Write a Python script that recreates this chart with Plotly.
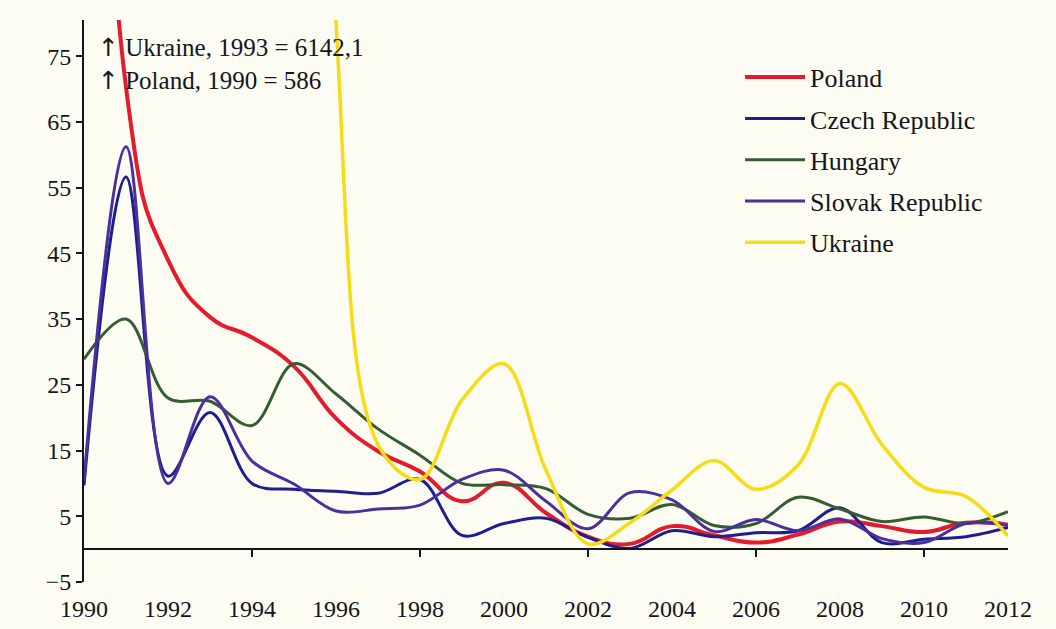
import plotly.graph_objects as go

years = list(range(1990, 2013))
poland = [586.0, 70.3, 44.0, 35.3, 32.2, 27.8, 19.9, 14.9, 11.8, 7.3, 10.1, 5.5,
          1.9, 0.8, 3.5, 2.1, 1.0, 2.2, 4.2, 3.5, 2.6, 4.0, 3.7]
czech = [9.7, 56.6, 11.1, 20.8, 10.0, 9.1, 8.8, 8.5, 10.6, 2.1, 3.9, 4.7,
         1.8, 0.1, 2.8, 1.9, 2.5, 2.8, 6.3, 1.0, 1.5, 1.9, 3.3]
hungary = [28.9, 35.0, 23.0, 22.5, 18.8, 28.2, 23.6, 18.3, 14.3, 10.0, 9.8, 9.2,
           5.3, 4.7, 6.8, 3.6, 3.9, 7.9, 6.1, 4.2, 4.9, 3.9, 5.7]
slovak = [10.4, 61.2, 10.0, 23.2, 13.4, 9.9, 5.8, 6.1, 6.7, 10.6, 12.0, 7.3,
          3.1, 8.6, 7.5, 2.7, 4.5, 2.8, 4.6, 1.6, 1.0, 3.9, 3.6]
ukraine_years = list(range(1993, 2013))
ukraine = [6142.1, 891.2, 376.7, 80.2, 15.9, 10.6, 22.7, 28.2, 12.0, 0.8,
           4.0, 9.0, 13.5, 9.1, 12.8, 25.2, 15.9, 9.4, 8.0, 2.0]

x_label_vals = list(range(1990, 2013, 2))
x_tick_marks = [1994, 1998, 2002, 2006, 2010]
y_tick_vals = [-5, 5, 15, 25, 35, 45, 55, 65, 75]

# name, x, y, colour, width, smoothing, x-axis
series = [
    ("Poland", years, poland, "#e31b2c", 4, 1.3, "x"),
    ("Czech Republic", years, czech, "#1e1e8e", 3, 1.0, "x"),
    ("Hungary", years, hungary, "#365c34", 3, 1.0, "x"),
    ("Slovak Republic", years, slovak, "#4a309c", 3, 1.0, "x"),
    ("Ukraine", ukraine_years, ukraine, "#f5dc16", 3.5, 1.0, "x2"),
]

FONT = "Liberation Serif"
INK = "#151520"
BG = "#fdfcf2"

fig = go.Figure()
for i, (name, xs, ys, color, w, sm, xa) in enumerate(series):
    fig.add_trace(go.Scatter(
        x=xs, y=ys, name=name, mode="lines", xaxis=xa, yaxis="y",
        line=dict(color=color, width=w, shape="spline", smoothing=sm),
        legendgroup=f"g{i}", hoverinfo="skip",
    ))

fig.update_layout(
    width=1056, height=629,
    margin=dict(l=84, r=48, t=20, b=47, autoexpand=False),
    paper_bgcolor=BG, plot_bgcolor=BG,
    font=dict(family=FONT, size=24, color=INK),
    showlegend=True,
    legend=dict(
        x=0.71, y=0.94, xanchor="left", yanchor="top",
        bgcolor="rgba(0,0,0,0)", font=dict(family=FONT, size=26, color=INK),
        itemwidth=60, traceorder="grouped", tracegroupgap=4.5,
    ),
    xaxis=dict(
        range=[1990, 2012], tickvals=x_label_vals,
        ticktext=[str(v) for v in x_label_vals],
        showline=False, showgrid=False, zeroline=False, automargin=False,
        ticks="outside", ticklen=5, tickcolor="rgba(0,0,0,0)",
        tickfont=dict(family=FONT, size=24, color=INK),
    ),
    xaxis2=dict(
        range=[1990, 2012], overlaying="x", anchor="free",
        position=5 / 85.5, side="bottom", automargin=False,
        showline=True, linecolor=INK, linewidth=2,
        tickvals=x_tick_marks, ticks="outside", ticklen=7, tickwidth=2,
        tickcolor=INK, showticklabels=False, showgrid=False, zeroline=False,
    ),
    yaxis=dict(
        range=[-5, 80.5], tickvals=y_tick_vals, automargin=False,
        showline=True, linecolor=INK, linewidth=2,
        ticks="outside", ticklen=6, tickwidth=2, tickcolor=INK,
        showgrid=False, zeroline=False,
        tickfont=dict(family=FONT, size=24, color=INK),
    ),
    annotations=[dict(
        xref="paper", yref="paper", x=0.013, y=0.98,
        xanchor="left", yanchor="top", align="left", showarrow=False,
        text=('<span style="font-family:DejaVu Sans">↑</span> Ukraine, 1993 = 6142,1<br>'
              '<span style="font-family:DejaVu Sans">↑</span> Poland, 1990 = 586'),
        font=dict(family=FONT, size=25, color=INK),
    )],
)

fig.write_html(
    "out.html",
    config={"displayModeBar": False},
    post_script=f"document.body.style.margin='0';document.body.style.background='{BG}';",
)
